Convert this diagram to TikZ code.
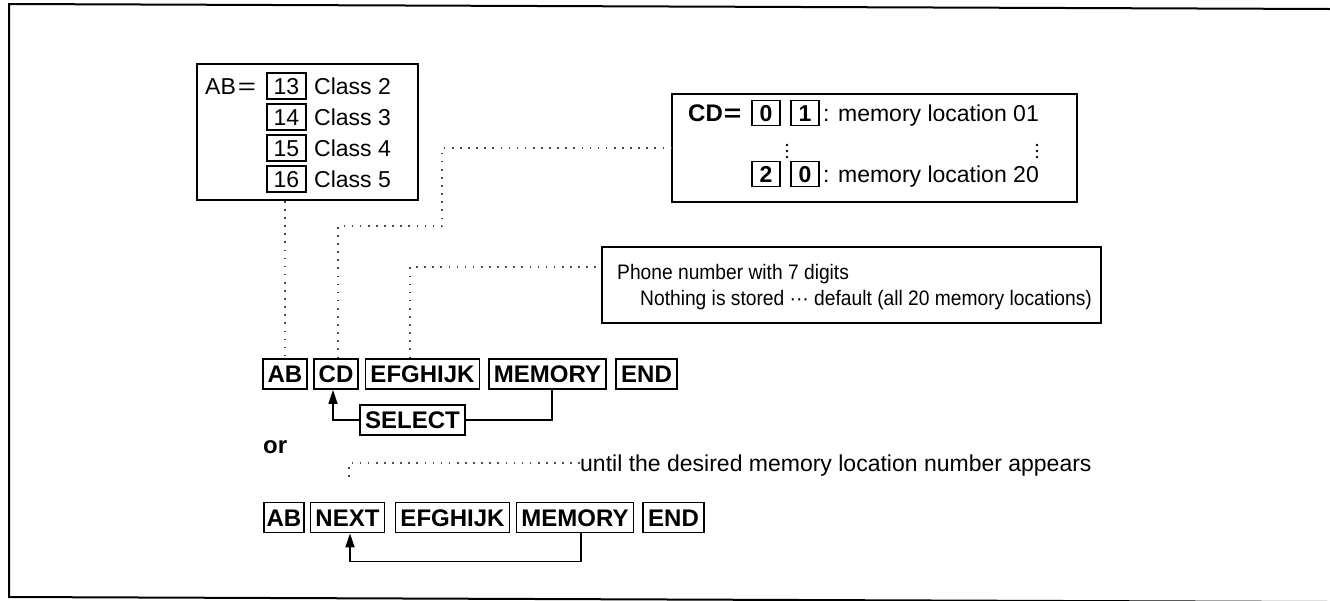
\documentclass[tikz,border=0pt]{standalone}
\usepackage{fontspec}
\setmainfont{Liberation Sans}
\usetikzlibrary{arrows.meta}
\begin{document}
\begin{tikzpicture}[x=1pt,y=-1pt,
  txt/.style={font=\fontsize{23}{27}\selectfont, inner sep=0pt, text height=16.5pt, text depth=0pt},
  smalltxt/.style={font=\fontsize{21}{25}\selectfont, inner sep=0pt, text height=15pt, text depth=0pt},
  btxt/.style={font=\fontsize{24}{28}\selectfont\bfseries, inner sep=0pt, text height=17pt, text depth=0pt},
  keybox/.style={draw, line width=1.8pt, font=\fontsize{24}{28}\selectfont\bfseries, inner xsep=5pt, inner ysep=0pt, text height=17pt, text depth=0pt, minimum height=30pt},
  numbox/.style={draw, line width=1.4pt, font=\fontsize{23}{27}\selectfont, inner sep=0pt, text height=16.5pt, text depth=0pt, minimum width=39pt, minimum height=26pt},
  digbox/.style={draw, line width=1.6pt, font=\fontsize{23}{27}\selectfont\bfseries, inner sep=0pt, text height=16.5pt, text depth=0pt, minimum width=28pt, minimum height=25pt},
  panel/.style={draw, line width=1.8pt, inner sep=0pt},
  dotline/.style={line width=1.6pt, black!70, dash pattern=on 1.6pt off 6.5pt},
  feed/.style={line width=1.6pt},
  feedarrow/.style={feed, -{Triangle[length=14pt,width=9pt]}},
]
\useasboundingbox (0,0) rectangle (1330,600);
% outer frame (open on the right)
\draw[line width=2pt] (1330,9) -- (9,4) -- (9,597) -- (1330,602);

% panels
\node[panel, minimum width=221pt, minimum height=136pt] (abpanel) at (307.5,132) {};
\node[panel, minimum width=405pt, minimum height=108pt] (cdpanel) at (874.5,148) {};
\node[panel, minimum width=499pt, minimum height=76pt] (phpanel) at (851.5,285) {};

% AB panel contents
\node[txt, anchor=west] (abeq) at (205,86) {AB\kern2pt\scalebox{1.35}[1]{=}};
\node[numbox] (n13) at (286.5,86) {13};
\node[numbox] (n14) at (286.5,117) {14};
\node[numbox] (n15) at (286.5,148) {15};
\node[numbox] (n16) at (286.5,179) {16};
\node[txt, anchor=west] (c2) at (314,86) {Class 2};
\node[txt, anchor=west] (c3) at (314,117) {Class 3};
\node[txt, anchor=west] (c4) at (314,148) {Class 4};
\node[txt, anchor=west] (c5) at (314,179) {Class 5};

% CD panel contents
\node[btxt, anchor=west] (cdeq) at (688,113) {CD\kern1pt\scalebox{1.25}[1]{=}};
\node[digbox] (d0) at (766,113) {0};
\node[digbox] (d1) at (805,113) {1};
\node[txt, anchor=west] (m01) at (823,113) {: memory location 01};
\node[digbox] (d2) at (766,174) {2};
\node[digbox] (d20) at (805,174) {0};
\node[txt, anchor=west] (m20) at (823,174) {: memory location 20};
\foreach \yy in {145,151,157} {
  \fill (787,\yy) circle (1.4pt);
  \fill (1037,\yy) circle (1.4pt);
}

% phone panel contents
\node[smalltxt, anchor=west] (ph1) at (617,272) {\scalebox{0.915}[1]{Phone number with 7 digits}};
\node[smalltxt, anchor=west] (ph2) at (640,298) {\scalebox{0.915}[1]{Nothing is stored ··· default (all 20 memory locations)}};

% key row 1
\node[keybox] (ab1) at (285,374) {AB};
\node[keybox] (cd1) at (336,374) {CD};
\node[keybox] (ef1) at (422.5,374) {EFGHIJK};
\node[keybox] (me1) at (547.5,374) {MEMORY};
\node[keybox] (en1) at (646.5,374) {END};
\node[keybox] (sel) at (412.5,420) {SELECT};

\node[btxt, anchor=west] (or) at (263,445) {or};
\node[txt, anchor=west] (until) at (580,463) {until the desired memory location number appears};

% key row 2
\node[keybox, inner xsep=2.5pt] (ab2) at (284,517.5) {AB};
\node[keybox] (nx) at (347.5,517.5) {NEXT};
\node[keybox] (ef2) at (452.5,517.5) {EFGHIJK};
\node[keybox] (me2) at (575,517.5) {MEMORY};
\node[keybox] (en2) at (673.5,517.5) {END};

% dotted leaders
\draw[dotline] (ab1.north |- abpanel.south) -- (ab1.north);
\draw[dotline] ([xshift=2pt]cd1.north) |- (442,226) |- (cdpanel.west);
\draw[dotline] ([xshift=-12.5pt]ef1.north) |- ([yshift=18pt]phpanel.west);
\draw[dotline] (until.west) -| ([xshift=1.5pt,yshift=20pt]nx.north);

% feedback arrows
\draw[feed] ([xshift=4.5pt]me1.south) |- (sel.east);
\draw[feedarrow] (sel.west) -| ([xshift=-3pt]cd1.south);
\draw[feedarrow] ([xshift=6pt]me2.south) -- ++(0,28) -| ([xshift=2.5pt]nx.south);
\end{tikzpicture}
\end{document}
